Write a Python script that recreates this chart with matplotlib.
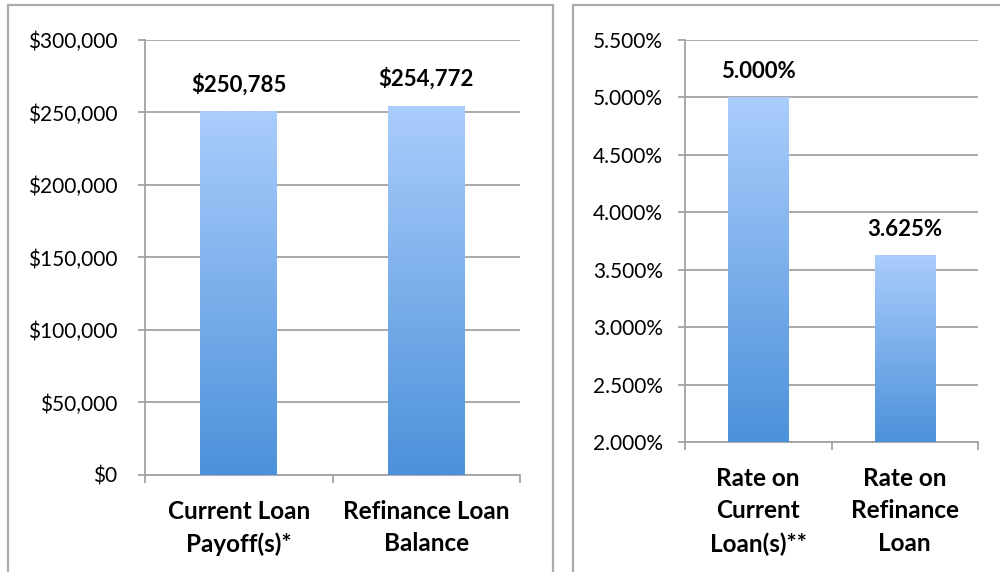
import numpy as np
import matplotlib
matplotlib.use("Agg")
import matplotlib.pyplot as plt
from matplotlib.patches import Rectangle
from matplotlib.colors import LinearSegmentedColormap
from matplotlib.ticker import FuncFormatter, FixedLocator

plt.rcParams['font.family'] = ['Lato', 'DejaVu Sans']

# data
loan_labels = ["Current Loan\nPayoff(s)*", "Refinance Loan\nBalance"]
loan_values = [250785, 254772]
loan_ticks = [0, 50000, 100000, 150000, 200000, 250000, 300000]

rate_labels = ["Rate on\nCurrent\nLoan(s)**", "Rate on\nRefinance\nLoan"]
rate_values = [5.000, 3.625]
rate_ticks = [2.0, 2.5, 3.0, 3.5, 4.0, 4.5, 5.0, 5.5]

GRID = "#A3A3A3"
BORDER = "#ABABAB"
grad = LinearSegmentedColormap.from_list("bar", ["#4C91DA", "#AACDFC"])


def gradient_bars(ax, values, floor):
    bars = ax.bar(range(len(values)), [v - floor for v in values], bottom=floor,
                  width=0.41, color="none", edgecolor="none", zorder=3)
    g = np.linspace(0, 1, 256).reshape(-1, 1)
    for b in bars:
        x0, y0 = b.get_x(), b.get_y()
        im = ax.imshow(g, cmap=grad, origin="lower", aspect="auto", zorder=3,
                       extent=(x0, x0 + b.get_width(), y0, y0 + b.get_height()))
        im.set_clip_path(b)
    return bars


def style_axes(ax, labels, ticks, ylim, fmt, pad):
    ax.set_xlim(-0.5, len(labels) - 0.5)
    ax.set_ylim(*ylim)
    ax.set_axisbelow(True)
    ax.yaxis.grid(True, color=GRID, lw=1.3)
    for s in ["top", "right"]:
        ax.spines[s].set_visible(False)
    for s in ["left", "bottom"]:
        ax.spines[s].set_color(GRID)
        ax.spines[s].set_linewidth(1.3)
    ax.set_yticks(ticks)
    ax.yaxis.set_major_formatter(FuncFormatter(fmt))
    ax.tick_params(axis="y", direction="out", length=5, width=1.3, color=GRID,
                   labelsize=15, pad=pad, labelcolor="black")
    ax.set_xticks(range(len(labels)))
    ax.set_xticklabels(labels, fontweight="bold", fontsize=17.5, linespacing=1.5)
    ax.tick_params(axis="x", which="major", length=0, pad=18)
    ax.xaxis.set_minor_locator(FixedLocator([i - 0.5 for i in range(len(labels) + 1)]))
    ax.tick_params(axis="x", which="minor", direction="out", length=6, width=1.3, color=GRID)


fig = plt.figure(figsize=(10, 5.72), dpi=100)

# panel borders
fig.patches.append(Rectangle((0.008, -0.05), 0.545, 1.0404, transform=fig.transFigure,
                             fill=False, ec=BORDER, lw=1.6))
fig.patches.append(Rectangle((0.573, -0.05), 0.5, 1.0404, transform=fig.transFigure,
                             fill=False, ec=BORDER, lw=1.6))

# left chart: loan amounts
ax1 = fig.add_axes([0.145, 0.1696, 0.375, 0.7605])
gradient_bars(ax1, loan_values, 0)
style_axes(ax1, loan_labels, loan_ticks, (0, 300000), lambda v, p: f"${v:,.0f}", 15)
for i, v in enumerate(loan_values):
    ax1.annotate(f"${v:,.0f}", (i, v), xytext=(0, 14), textcoords="offset points",
                 ha="center", va="baseline", fontweight="bold", fontsize=16)

# right chart: rates
ax2 = fig.add_axes([0.685, 0.2273, 0.293, 0.7028])
gradient_bars(ax2, rate_values, 2.0)
style_axes(ax2, rate_labels, rate_ticks, (2.0, 5.5), lambda v, p: f"{v:.3f}%", 11)
for i, v in enumerate(rate_values):
    ax2.annotate(f"{v:.3f}%", (i, v), xytext=(0, 14), textcoords="offset points",
                 ha="center", va="baseline", fontweight="bold", fontsize=16)

fig.savefig("out.png", dpi=100)
